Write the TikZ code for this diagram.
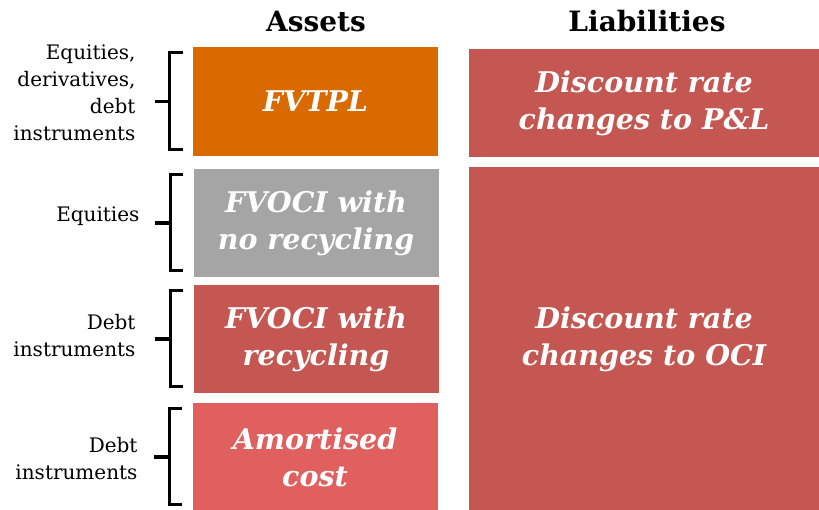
\documentclass[tikz,border=0pt]{standalone}
\usepackage{fontspec}
\setmainfont{DejaVu Serif}
\usetikzlibrary{calc}

\definecolor{fvorange}{RGB}{216,106,0}
\definecolor{fvgrey}{RGB}{165,165,165}
\definecolor{fvred}{RGB}{196,87,81}
\definecolor{fvpink}{RGB}{224,96,96}

\tikzset{
  box/.style={rectangle, inner sep=0pt, text=white, align=center,
    font=\fontsize{28.5}{37}\selectfont\bfseries\itshape},
  head/.style={font=\fontsize{28}{32}\selectfont\bfseries},
  side/.style={anchor=east, align=right, font=\fontsize{20}{27}\selectfont},
  brace/.style={line width=3.2pt}
}

\begin{document}
\begin{tikzpicture}[x=1pt,y=-1pt]
\useasboundingbox (0,0) rectangle (819,510);

\node[head] (assets) at (316,21) {Assets};
\node[head] (liab) at (647,21) {Liabilities};

\node[box, fill=fvorange, minimum width=245, minimum height=109] (fvtpl) at (315.5,101.5) {FVTPL};
\node[box, fill=fvgrey, minimum width=245, minimum height=108] (nocyc) at (316,223) {FVOCI with\\no recycling};
\node[box, fill=fvred, minimum width=245, minimum height=108] (cyc) at (316,339) {FVOCI with\\recycling};
\node[box, fill=fvpink, minimum width=245, minimum height=108] (amort) at (315,457) {Amortised\\cost};

\node[box, fill=fvred, minimum width=350, minimum height=108] (pl) at (644,103) {Discount rate\\changes to P\&L};
\node[box, fill=fvred, minimum width=350, minimum height=344] (oci) at (644,339) {Discount rate\\changes to OCI};

\node[side] (lab1) at (139,93) {Equities,\\derivatives,\\debt\\instruments};
\node[side] (lab2) at (143,216) {Equities};
\node[side] (lab3) at (139,336) {Debt\\instruments};
\node[side] (lab4) at (141,459) {Debt\\instruments};

% brackets
\foreach \b in {fvtpl,nocyc,cyc,amort}{
  \draw[brace] ($(\b.north west)+(-10,6)$) -- ($(\b.north west)+(-23,6)$)
    -- ($(\b.south west)+(-23,-7)$) -- ($(\b.south west)+(-10,-7)$);
  \draw[brace] ($(\b.west)+(-23,0)$) -- ($(\b.west)+(-38,0)$);
}

\end{tikzpicture}
\end{document}
